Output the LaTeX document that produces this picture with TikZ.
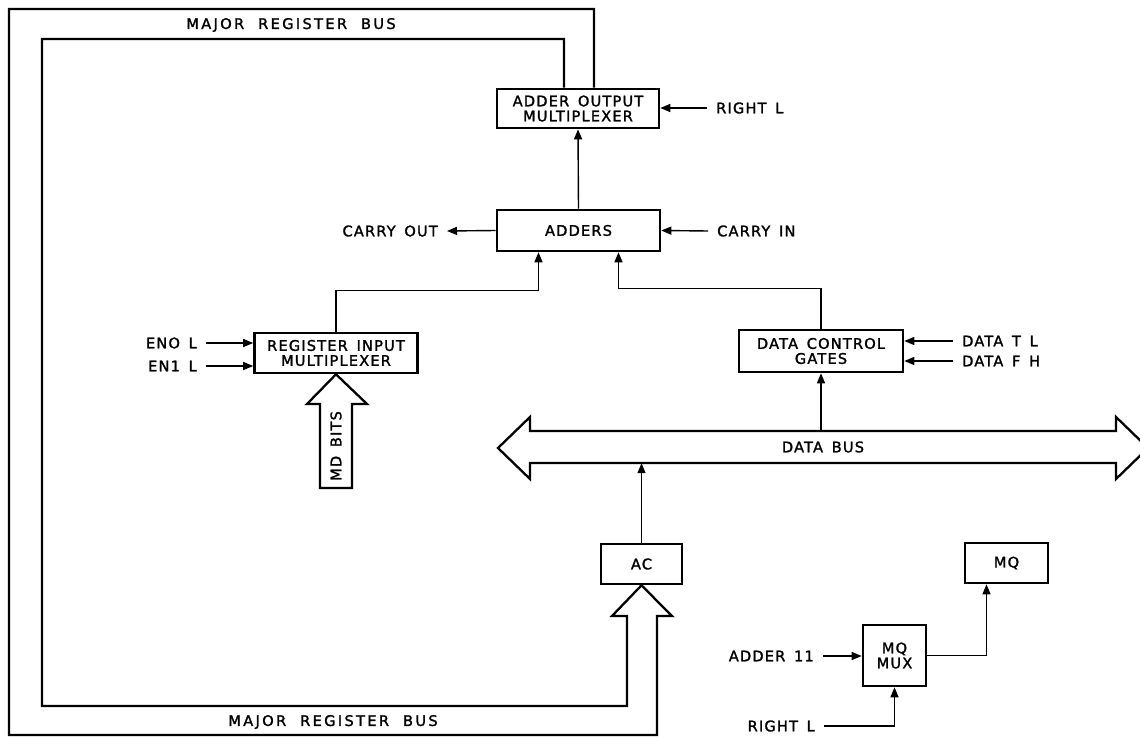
\documentclass[tikz,border=0pt]{standalone}
\usepackage{fontspec}
\usetikzlibrary{arrows.meta}
\newfontfamily\lblf{DejaVu Sans}[LetterSpace=8,WordSpace=1.5,FakeBold=1.6]
\newfontfamily\lblwf{DejaVu Sans}[LetterSpace=16,WordSpace=2,FakeBold=1.6]
\newcommand{\lbl}{\lblf\fontsize{14.6}{15}\selectfont}
\newcommand{\lblw}{\lblwf\fontsize{14.6}{15}\selectfont}
\tikzset{
  blk/.style={draw, line width=2.6pt, inner sep=0pt, align=center, font=\lbl},
  lab/.style={inner xsep=9pt, inner ysep=2pt, font=\lbl},
  conn/.style={line width=1.4pt},
  arr/.style={conn, -{Triangle[length=10pt,width=8pt]}},
  bus/.style={line width=2.3pt, line join=miter}
}
\begin{document}
\begin{tikzpicture}[x=1pt,y=-1pt]
\useasboundingbox[fill=white] (0,0) rectangle (1140,738);

% blocks
\node[blk, minimum width=162, minimum height=39] (aom) at (578,108.5) {ADDER OUTPUT\\MULTIPLEXER};
\node[blk, minimum width=163, minimum height=41] (add) at (578.5,230.5) {ADDERS};
\node[blk, minimum width=163, minimum height=40] (rim) at (336,353) {REGISTER INPUT\\MULTIPLEXER};
\node[blk, minimum width=164, minimum height=42] (dcg) at (821,351) {DATA CONTROL\\GATES};
\node[blk, minimum width=81, minimum height=40] (ac) at (641.5,564) {AC};
\node[blk, minimum width=83, minimum height=40] (mq) at (1006.5,563) {MQ};
\node[blk, minimum width=63, minimum height=61] (mqmux) at (894.5,655.5) {MQ\\MUX};

% labels
\node[lab, anchor=east] (cout) at (447,231) {CARRY OUT};
\node[lab, anchor=west] (cin) at (708,231) {CARRY IN};
\node[lab, anchor=west] (rt) at (707,108) {RIGHT L};
\node[lab, anchor=west] (dtl) at (953,341) {DATA T L};
\node[lab, anchor=west] (dfh) at (953,361) {DATA F H};
\node[lab, anchor=east] (en0) at (206,343) {ENO L};
\node[lab, anchor=east] (en1) at (206,366) {EN1 L};
\node[lab, anchor=east] (a11) at (823,656) {ADDER 11};
\node[lab, anchor=east] (rtb) at (824,726) {RIGHT L};
\node[font=\lblw] (mrbt) at (291,25) {MAJOR REGISTER BUS};
\node[font=\lblw] (mrbb) at (333,722) {MAJOR REGISTER BUS};

% data bus
\node[font=\lbl, minimum width=586, minimum height=32, inner sep=0pt] (bus) at (823,447) {DATA BUS};
\draw[bus] (498,448) -- (530,417) -- (530,431) -- (1116,431) -- (1116,417) -- (1148,448)
  -- (1116,479) -- (1116,463) -- (530,463) -- (530,479) -- cycle;

% MD bits arrow
\draw[bus] (rim.south) -- (367,404) -- (352,404) -- (352,488) -- (320,488) -- (320,404) -- (307,404) -- cycle;
\node[font=\lbl, rotate=90] (md) at (336,446) {MD BITS};

% major register bus loop
\draw[bus] ([xshift=-14pt]aom.north) -- (564,39) -- (42,39) -- (42,706) -- (627,706) -- (627,616)
  -- (612,616) -- (ac.south) -- (672,616) -- (657,616) -- (657,735) -- (9,735) -- (9,9)
  -- (594,9) -- ([xshift=16pt]aom.north);

% connectors
\draw[arr] (add.north) -- (aom.south);
\draw[arr] (add.west) -- (cout.east);
\draw[arr] (cin.west) -- (add.east);
\draw[arr] (rt.west) -- (rt.west -| aom.east);
\draw[arr] (dtl.west) -- (dtl.west -| dcg.east);
\draw[arr] (dfh.west) -- (dfh.west -| dcg.east);
\draw[arr] (en0.east) -- (en0.east -| rim.west);
\draw[arr] (en1.east) -- (en1.east -| rim.west);
\draw[arr] (rim.north) -- ++(0,-41) -| ([xshift=-40pt]add.south);
\draw[arr] (dcg.north) -- ++(0,-40) -| ([xshift=40pt]add.south);
\draw[arr] (bus.north -| dcg.south) -- (dcg.south);
\draw[arr] (ac.north) -- (ac.north |- bus.south);
\draw[arr] (a11.east) -- (a11.east -| mqmux.west);
\draw[arr] (rtb.east) -| (mqmux.south);
\draw[arr] (mqmux.east) -| ([xshift=-20pt]mq.south);
\end{tikzpicture}
\end{document}
